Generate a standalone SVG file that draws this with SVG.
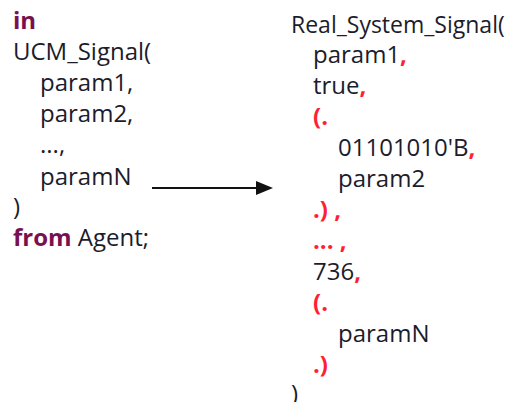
<svg xmlns="http://www.w3.org/2000/svg" width="512" height="402" viewBox="0 0 512 402">
<defs>
<style>
text{font-family:"Open Sans","Noto Sans","Liberation Sans",sans-serif;font-size:24px;fill:#1c1c2c;}
.kw{font-weight:bold;fill:#7a1050;}
.rd{font-weight:bold;fill:#ff1f35;}
.conn{stroke:#111;stroke-width:2;fill:none;}
</style>
</defs>
<rect width="512" height="402" fill="#fff"/>
<g id="ucm_signal">
<text x="13" y="29"><tspan class="kw">in</tspan></text>
<text x="13" y="60">UCM_Signal(</text>
<text x="40" y="91">param1,</text>
<text x="40" y="122">param2,</text>
<text x="40" y="153">...,</text>
<text x="40" y="185">paramN</text>
<text x="13" y="215">)</text>
<text x="13" y="246"><tspan class="kw">from</tspan> Agent;</text>
</g>
<g id="real_system_signal">
<text x="291" y="33" style="font-size:23px">Real_System_Signal(</text>
<text x="313" y="63">param1<tspan class="rd">,</tspan></text>
<text x="313" y="94">true<tspan class="rd">,</tspan></text>
<text x="313" y="125"><tspan class="rd">(.</tspan></text>
<text x="338" y="156">01101010'B<tspan class="rd">,</tspan></text>
<text x="338" y="187">param2</text>
<text x="313" y="218"><tspan class="rd">.) ,</tspan></text>
<text x="313" y="249"><tspan class="rd">... ,</tspan></text>
<text x="313" y="280">736<tspan class="rd">,</tspan></text>
<text x="313" y="311"><tspan class="rd">(.</tspan></text>
<text x="338" y="342">paramN</text>
<text x="313" y="373"><tspan class="rd">.)</tspan></text>
<text x="291" y="402">)</text>
</g>
<g id="connectors">
<path class="conn" d="M152,188 L258,188" />
<path d="M256,181 L273,188 L256,195 z" fill="#111"/>
</g>
</svg>
